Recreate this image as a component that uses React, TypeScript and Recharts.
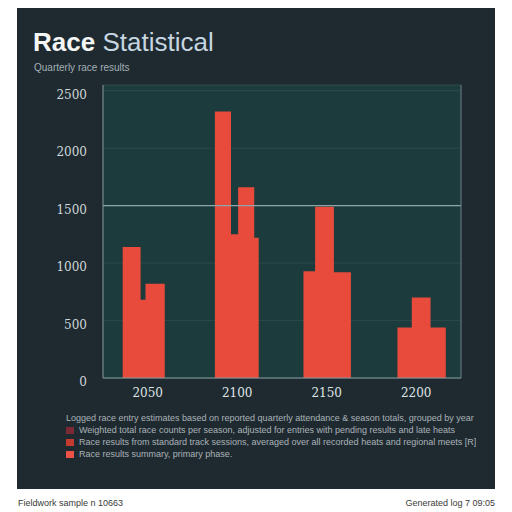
import React from 'react';
import {
  AreaChart, Area, XAxis, YAxis, CartesianGrid, ReferenceLine,
} from 'recharts';

const groupLabels = ['2050', '2100', '2150', '2200'];
const yTicks = [0, 500, 1000, 1500, 2000, 2500];

// step edges on the group axis (0..4) and the height that starts at each edge
const stepEdges = [
  0, 0.22, 0.42, 0.475, 0.69,
  1.25, 1.43, 1.51, 1.69, 1.74,
  2.24, 2.37, 2.58, 2.77,
  3.29, 3.45, 3.66, 3.83, 4,
];
const stepValues = [
  0, 1140, 680, 820, 0,
  2320, 1250, 1660, 1220, 0,
  930, 1490, 920, 0,
  440, 700, 440, 0, 0,
];

const legendNotes = [
  { color: null, text: 'Logged race entry estimates based on reported quarterly attendance & season totals, grouped by year' },
  { color: '#7b2a35', text: 'Weighted total race counts per season, adjusted for entries with pending results and late heats' },
  { color: '#c23a30', text: 'Race results from standard track sessions, averaged over all recorded heats and regional meets [R]' },
  { color: '#ee5246', text: 'Race results summary, primary phase.' },
];

const RED = '#e84b3c';

const data = stepEdges.map((pos, i) => ({ pos, value: stepValues[i] }));

export default function App() {
  return (
    <div style={{ position: 'relative', width: 512, height: 512, background: '#ffffff', fontFamily: 'Arial, "Liberation Sans", sans-serif', overflow: 'hidden' }}>
      <style>{'body{margin:0}'}</style>
      <div style={{ position: 'absolute', left: 17, top: 8, width: 478, height: 481, background: '#1f2a30' }} />
      <div style={{ position: 'absolute', left: 33, top: 27, fontSize: 26, whiteSpace: 'nowrap' }}>
        <span style={{ color: '#f4f6f6', fontWeight: 700 }}>Race </span>
        <span style={{ color: '#c6d6e0' }}>Statistical</span>
      </div>
      <div style={{ position: 'absolute', left: 34, top: 62, fontSize: 10, color: '#a3b0b6', whiteSpace: 'nowrap' }}>
        Quarterly race results
      </div>
      <div style={{ position: 'absolute', left: 17, top: 80 }}>
        <AreaChart width={460} height={320} data={data} margin={{ top: 5, right: 16, left: 26, bottom: 0 }}>
          <CartesianGrid vertical={false} fill="#1c3b3d" stroke="#2b4a4b" strokeWidth={1} />
          <XAxis
            type="number"
            dataKey="pos"
            domain={[0, 4]}
            ticks={[0.5, 1.5, 2.5, 3.5]}
            tickFormatter={(v: number) => groupLabels[Math.floor(v)]}
            tick={{ fontSize: 12, fill: '#dfe5e6', fontFamily: '"DejaVu Serif", serif' }}
            tickLine={false}
            axisLine={{ stroke: '#8a9a9e' }}
            height={22}
            tickMargin={4}
          />
          <YAxis
            domain={[0, 2550]}
            ticks={yTicks}
            width={60}
            tick={{ fontSize: 12, fill: '#cfd7d9', fontFamily: '"DejaVu Serif", serif', dy: 4 }}
            tickLine={false}
            axisLine={{ stroke: '#8a9a9e' }}
            tickMargin={10}
          />
          <ReferenceLine y={1500} stroke="#8ea6a9" strokeWidth={1.2} />
          <ReferenceLine x={4} stroke="#6f8387" />
          <Area
            type="stepAfter"
            dataKey="value"
            fill={RED}
            fillOpacity={1}
            stroke="none"
            isAnimationActive={false}
          />
        </AreaChart>
      </div>
      <div style={{ position: 'absolute', left: 66, top: 412, width: 410, fontSize: 9, color: '#aab3b8', lineHeight: '12px' }}>
        {legendNotes.map((n, i) => (
          <div key={i} style={{ display: 'flex', alignItems: 'center', whiteSpace: 'nowrap', overflow: 'hidden' }}>
            {n.color && <span style={{ width: 8, height: 7, background: n.color, marginRight: 5, flex: 'none' }} />}
            <span>{n.text}</span>
          </div>
        ))}
      </div>
      <div style={{ position: 'absolute', left: 18, top: 498, fontSize: 9, color: '#3a3a3a' }}>Fieldwork sample n 10663</div>
      <div style={{ position: 'absolute', right: 17, top: 498, fontSize: 9, color: '#3a3a3a' }}>Generated log 7 09:05</div>
    </div>
  );
}
